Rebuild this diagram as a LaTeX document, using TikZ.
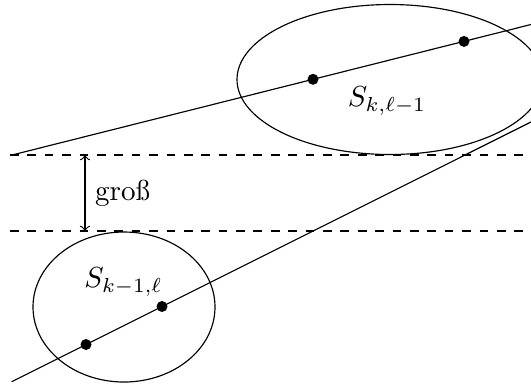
\documentclass[tikz,border=0pt]{standalone}
\begin{document}
\begin{tikzpicture}[x=0.345pt,y=-0.345pt,
  dotmark/.style={circle,fill=black,inner sep=0pt,minimum size=11*0.345pt},
  guide/.style={dashed},
  setlabel/.style={inner sep=0pt}]
\useasboundingbox (0,0) rectangle (531,387);
\clip (0,0) rectangle (531,387);
% ellipses
\draw (390,79.5) ellipse [x radius=153, y radius=75];
\draw (124,307) ellipse [x radius=91, y radius=75];
% dashed guide lines
\coordinate (g1a) at (10,155);
\coordinate (g1b) at (531,155);
\coordinate (g2a) at (10,231);
\coordinate (g2b) at (531,231);
\draw[guide] (g1a) -- (g1b);
\draw[guide] (g2a) -- (g2b);
% upper line
\coordinate (u0) at (10,155.5);
\coordinate (u3) at (531,24.5);
\draw (u0) -- (u3);
\node[dotmark] (u1) at (313,79.3) {};
\node[dotmark] (u2) at (464,41.4) {};
% lower line
\coordinate (l0) at (11.7,381.7);
\coordinate (l3) at (531,122);
\draw (l0) -- (l3);
\node[dotmark] (l1) at (86,344.5) {};
\node[dotmark] (l2) at (162,306.5) {};
% labels
\node[setlabel] (su) at (387,101) {$S_{k,\ell-1}$};
\node[setlabel] (sl) at (123.5,282) {$S_{k-1,\ell}$};
% arrow
\coordinate (aa) at (85,155);
\coordinate (ab) at (85,231);
\draw[<->] (aa) -- node[right] (gr) {groß} (ab);
\end{tikzpicture}
\end{document}
